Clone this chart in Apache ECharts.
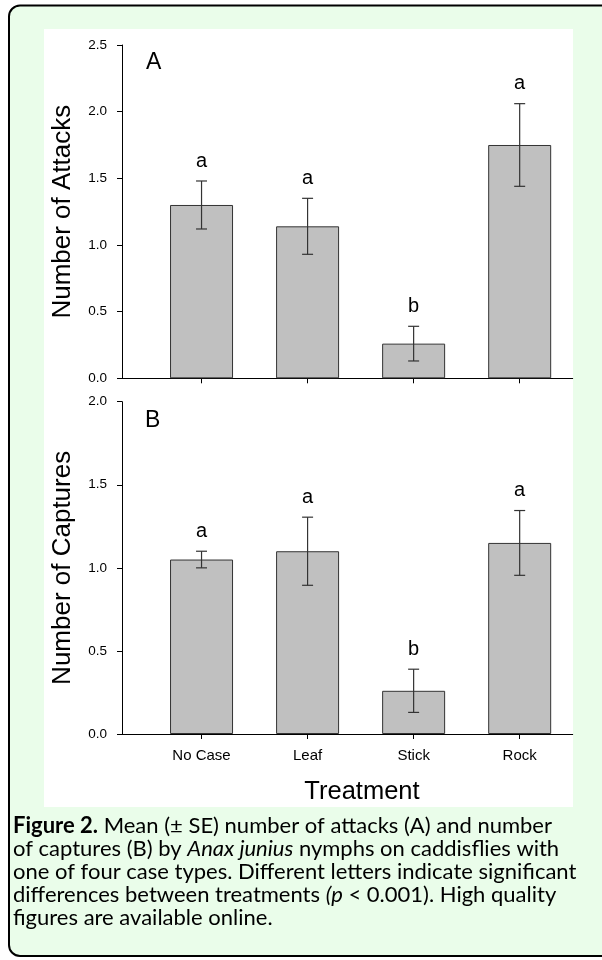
<!DOCTYPE html>
<html><head><meta charset="utf-8">
<script src="https://cdn.jsdelivr.net/npm/echarts@6/dist/echarts.min.js"></script>
<style>html,body{margin:0;padding:0;background:#fff;}#c{width:602px;height:960px;}</style>
</head><body><div id="c"></div>
<script>
const categories = ['No Case', 'Leaf', 'Stick', 'Rock'];
const attacksMean = [1.30, 1.14, 0.26, 1.75];
const attacksSE = [0.18, 0.21, 0.13, 0.31];
const attacksLetters = ['a', 'a', 'b', 'a'];
const capturesMean = [1.05, 1.10, 0.26, 1.15];
const capturesSE = [0.05, 0.205, 0.13, 0.195];
const capturesLetters = ['a', 'a', 'b', 'a'];
const xTickValues = categories.map((c, i) => i + 1);

const FONT = 'Liberation Sans';
const chart = echarts.init(document.getElementById('c'), null, {renderer: 'canvas'});

function barSeries(idx, means) {
  return {
    type: 'bar', xAxisIndex: idx, yAxisIndex: idx,
    data: means.map((v, i) => [i + 1, v]),
    barWidth: 63,
    itemStyle: {color: '#c0c0c0', borderColor: '#333', borderWidth: 1},
    silent: true, z: 2
  };
}
function errSeries(idx, means, ses, letters) {
  return {
    type: 'custom', xAxisIndex: idx, yAxisIndex: idx,
    data: means.map((m, i) => [i + 1, m - ses[i], m + ses[i]]),
    z: 5, silent: true,
    renderItem(params, api) {
      const x = api.value(0);
      const lo = api.coord([x, api.value(1)]);
      const hi = api.coord([x, api.value(2)]);
      const cw = 5.5, col = '#333', lw = 1.2;
      return {type: 'group', children: [
        {type: 'line', shape: {x1: lo[0], y1: lo[1], x2: hi[0], y2: hi[1]}, style: {stroke: col, lineWidth: lw}},
        {type: 'line', shape: {x1: hi[0] - cw, y1: hi[1], x2: hi[0] + cw, y2: hi[1]}, style: {stroke: col, lineWidth: lw}},
        {type: 'line', shape: {x1: lo[0] - cw, y1: lo[1], x2: lo[0] + cw, y2: lo[1]}, style: {stroke: col, lineWidth: lw}},
        {type: 'text', style: {text: letters[params.dataIndex], x: hi[0], y: hi[1] - 20, align: 'center', verticalAlign: 'middle',
          font: '20px "' + FONT + '"', fill: '#000'}}
      ]};
    }
  };
}
function xAxis(idx, showLabels) {
  return {
    type: 'value', gridIndex: idx, min: 0.25, max: 4.5,
    axisLine: {show: true, onZero: false, lineStyle: {color: '#000', width: 1}},
    axisTick: {show: true, length: 5, customValues: xTickValues, lineStyle: {color: '#000'}},
    axisLabel: {show: showLabels, customValues: xTickValues, formatter: v => categories[Math.round(v) - 1] || '',
      color: '#000', fontSize: 15, fontFamily: FONT, margin: 14},
    splitLine: {show: false}
  };
}
function yAxis(idx, max, name) {
  return {
    type: 'value', gridIndex: idx, min: 0, max: max, interval: 0.5,
    axisLine: {show: true, lineStyle: {color: '#000', width: 1}},
    axisTick: {show: true, length: 5, lineStyle: {color: '#000'}},
    axisLabel: {color: '#000', fontSize: 13.5, fontFamily: FONT, margin: 15, formatter: v => v.toFixed(1)},
    splitLine: {show: false},
    name: name, nameLocation: 'middle', nameGap: 46,
    nameTextStyle: {fontSize: 26, fontFamily: FONT, color: '#000'}
  };
}

const caption = '{b|Figure 2.} Mean (± SE) number of attacks (A) and number\n' +
  'of captures (B) by {i|Anax junius} nymphs on caddisflies with\n' +
  'one of four case types. Different letters indicate significant\n' +
  'differences between treatments {i|(p} < 0.001). High quality\n' +
  'figures are available online.';
const CAP = 22, CLH = 22.8;

chart.setOption({
  animation: false,
  backgroundColor: '#fff',
  graphic: [
    {type: 'rect', z: -100, shape: {x: 9, y: 5.5, width: 610, height: 950.5, r: 11},
      style: {fill: '#eafdea', stroke: '#000', lineWidth: 2}},
    {type: 'rect', z: -90, shape: {x: 44, y: 29, width: 529, height: 778}, style: {fill: '#fff'}},
    {type: 'text', z: 10, style: {text: 'A', x: 146, y: 63, verticalAlign: 'middle', font: '23px "' + FONT + '"', fill: '#000'}},
    {type: 'text', z: 10, style: {text: 'B', x: 145, y: 420.5, verticalAlign: 'middle', font: '23px "' + FONT + '"', fill: '#000'}},
    {type: 'text', z: 10, style: {text: 'Treatment', x: 362, y: 792, align: 'center', verticalAlign: 'middle', font: '25.5px "' + FONT + '"', fill: '#000'}},
    {type: 'text', z: 10, style: {text: caption, x: 13, y: 815, verticalAlign: 'top',
      font: CAP + 'px Lato', fill: '#000', lineHeight: CLH,
      rich: {
        b: {fontWeight: 'bold', fontFamily: 'Lato', fontSize: CAP, lineHeight: CLH},
        i: {fontStyle: 'italic', fontFamily: 'Lato', fontSize: CAP, lineHeight: CLH}
      }}}
  ],
  grid: [
    {left: 122, right: 29.3, top: 45, height: 333.3},
    {left: 122, right: 29.3, top: 401.7, height: 332.3}
  ],
  xAxis: [xAxis(0, false), xAxis(1, true)],
  yAxis: [yAxis(0, 2.5, 'Number of Attacks'), yAxis(1, 2.0, 'Number of Captures')],
  series: [
    barSeries(0, attacksMean), errSeries(0, attacksMean, attacksSE, attacksLetters),
    barSeries(1, capturesMean), errSeries(1, capturesMean, capturesSE, capturesLetters)
  ]
});
</script></body></html>
